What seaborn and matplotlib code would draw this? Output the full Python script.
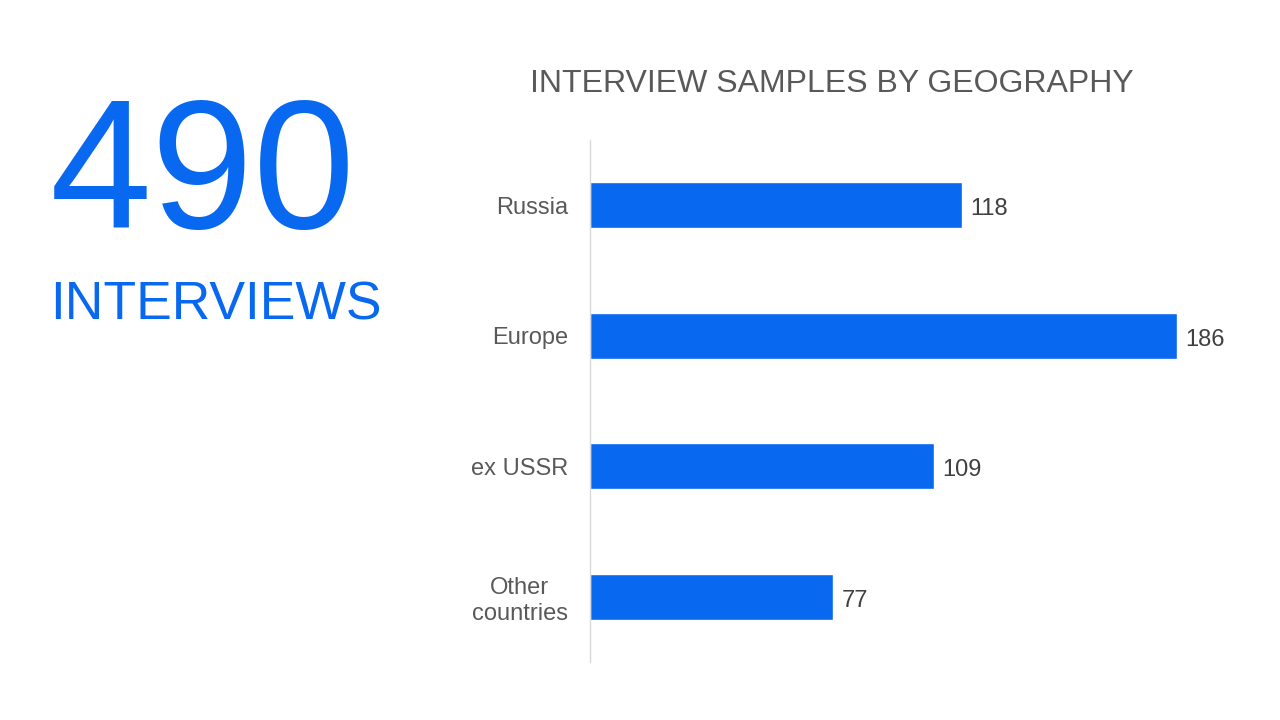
import matplotlib
matplotlib.use("Agg")
import matplotlib.pyplot as plt
import seaborn as sns
import pandas as pd

regions = ["Russia", "Europe", "ex USSR", "Other\ncountries"]
interviews = [118, 186, 109, 77]
total_interviews = 490

blue = "#0868F0"
grey = "#595959"

sns.set_theme(style="white")
plt.rcParams["font.family"] = ["Liberation Sans", "DejaVu Sans"]

df = pd.DataFrame({"Region": regions, "Interviews": interviews})

fig = plt.figure(figsize=(12.8, 7.2), dpi=100)
ax = fig.add_axes([590 / 1280, 1 - 662 / 720, 650 / 1280, 522 / 720])

sns.barplot(data=df, y="Region", x="Interviews", color=blue, width=0.35,
            saturation=1, ax=ax)

ax.set_xlim(0, 206)
ax.set_ylim(3.5, -0.5)
ax.set_xlabel("")
ax.set_ylabel("")
ax.set_xticks([])
ax.tick_params(axis="y", length=0, pad=16, labelsize=17, labelcolor=grey)
for lab in ax.get_yticklabels():
    lab.set_multialignment("center")
    lab.set_linespacing(1.25)
for side in ["top", "right", "bottom"]:
    ax.spines[side].set_visible(False)
ax.spines["left"].set_color("#d9d9d9")
ax.spines["left"].set_linewidth(1)

for cont in ax.containers:
    for t in ax.bar_label(cont, padding=7, fontsize=17, color="#404040"):
        t.set_va("center")
        t.xyann = (6, -3)

fig.text(832 / 1280, 1 - 84 / 720, "INTERVIEW SAMPLES BY GEOGRAPHY",
         ha="center", va="center", fontsize=23, color=grey)
fig.text(50 / 1280, 1 - 228 / 720, str(total_interviews), ha="left",
         va="baseline", fontsize=132, color=blue)
fig.text(50 / 1280, 1 - 320 / 720, "INTERVIEWS", ha="left",
         va="baseline", fontsize=38.5, color=blue)

fig.savefig("out.png", dpi=100)
